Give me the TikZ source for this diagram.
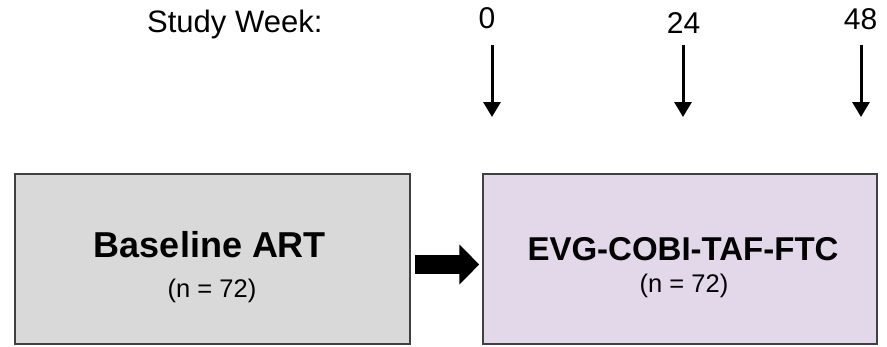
\documentclass[tikz,border=0pt]{standalone}
\usepackage{fontspec}
\setmainfont{Liberation Sans}
\usepackage{tikz}
\usetikzlibrary{positioning}
\usetikzlibrary{calc}
\usetikzlibrary{arrows.meta}
\definecolor{basegray}{RGB}{217,217,217}
\definecolor{evglilac}{RGB}{227,216,233}
\definecolor{boxline}{RGB}{64,64,64}

\begin{document}
\begin{tikzpicture}[x=1pt, y=-1pt,
		armbox/.style = {draw=boxline, line width=1.5pt, minimum width=395pt, minimum height=170pt, inner sep=0pt},
		wklabel/.style = {anchor=base, inner sep=0pt, font=\fontsize{30}{34}\selectfont},
		wkarrow/.style = {line width=3pt, -{Triangle[length=15pt, width=17pt]}},
		bigarrow/.style = {line width=19pt, -{Triangle[length=20pt, width=39pt]}}]
	\useasboundingbox (0,0) rectangle (887,346);

	% timeline header
	\node[anchor=base west, inner sep=0pt, font=\fontsize{31}{35}\selectfont] (studyweek) at (147,32) {Study Week:};
	\foreach \wk/\x/\y/\ax in {0/487/28/492, 24/683.5/33/683, 48/860.5/29/861} {
		\node[wklabel] (wk\wk) at (\x,\y) {\wk};
		\coordinate (top\wk) at (\ax,45);
		\coordinate (tip\wk) at (\ax,117);
		\draw[wkarrow] (top\wk) -- (tip\wk);
	}

	% the two arms
	\node[armbox, fill=basegray] (base) at (212.5,259) {};
	\node[armbox, fill=evglilac, minimum width=394pt] (evg) at (680,259) {};

	\node[anchor=base, inner sep=0pt, font=\bfseries\fontsize{36}{40}\selectfont] (basename) at (210,257) {Baseline ART};
	\node[anchor=base, inner sep=0pt, font=\fontsize{25.5}{29}\selectfont] (basen) at (212,297) {(n = 72)};
	\node[anchor=base, inner sep=0pt, font=\bfseries\fontsize{33}{37}\selectfont] (evgname) at (683,260) {EVG-COBI-TAF-FTC};
	\node[anchor=base, inner sep=0pt, font=\fontsize{25.5}{29}\selectfont] (evgn) at (684,292) {(n = 72)};

	% switch
	\draw[bigarrow] ([xshift=4pt, yshift=-5.5pt]base.east) -- ([xshift=-3pt, yshift=-5.5pt]evg.west);
\end{tikzpicture}
\end{document}
